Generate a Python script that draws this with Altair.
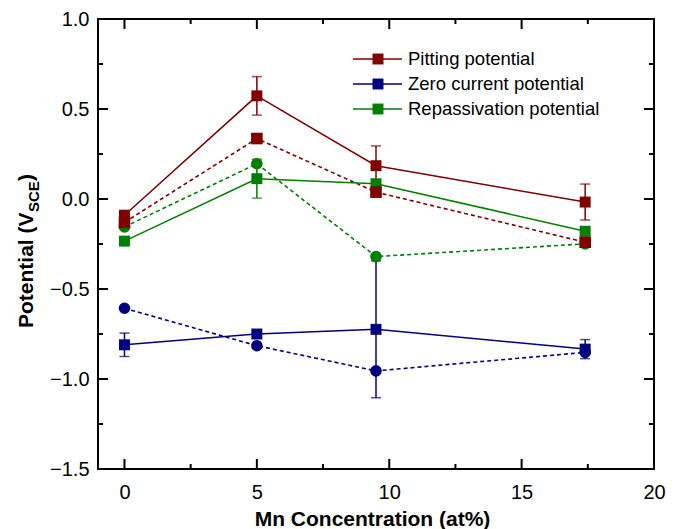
import altair as alt
import pandas as pd

# ---------------- data ----------------
x_vals = [0, 5, 9.5, 17.4]
series_names = ["Pitting potential", "Zero current potential", "Repassivation potential"]
series_colors = ["#800000", "#000080", "#008000"]
dash_shapes = ["square", "circle", "circle"]

pit_solid = [-0.09, 0.573, 0.185, -0.017]
pit_solid_err = [0.0, 0.107, 0.11, 0.10]
pit_dash = [-0.13, 0.336, 0.038, -0.24]

zero_solid = [-0.81, -0.75, -0.724, -0.834]
zero_solid_err = [0.065, 0.0, 0.38, 0.053]
zero_dash = [-0.607, -0.815, -0.955, -0.852]

rep_solid = [-0.234, 0.113, 0.085, -0.179]
rep_solid_err = [0.0, 0.108, 0.0, 0.0]
rep_dash = [-0.155, 0.196, -0.32, -0.249]

x_major = [0, 5, 10, 15, 20]
x_minor = [2.5, 7.5, 12.5, 17.5]
y_major = [1.0, 0.5, 0.0, -0.5, -1.0, -1.5]
y_minor = [0.75, 0.25, -0.25, -0.75, -1.25]

x_title = "Mn Concentration (at%)"
y_title_main = "Potential (V"
y_title_sub = "SCE"
y_title_end = ")"

# ---------------- tables ----------------
solid_sets = [pit_solid, zero_solid, rep_solid]
err_sets = [pit_solid_err, zero_solid_err, rep_solid_err]
dash_sets = [pit_dash, zero_dash, rep_dash]

solid_rows, dash_rows = [], []
for name, ys, es, ds, shp in zip(series_names, solid_sets, err_sets, dash_sets, dash_shapes):
    for x, y, e, d in zip(x_vals, ys, es, ds):
        solid_rows.append({"series": name, "x": x, "y": y, "err": e, "lo": y - e, "hi": y + e})
        dash_rows.append({"series": name, "x": x, "y": d, "shape": shp})
solid_df = pd.DataFrame(solid_rows)
dash_df = pd.DataFrame(dash_rows)
err_df = solid_df[solid_df["err"] > 0]
dash_df_draw = pd.concat([dash_df[dash_df.series == series_names[2]],
                          dash_df[dash_df.series == series_names[1]],
                          dash_df[dash_df.series == series_names[0]]])

FONT = "Liberation Sans"
W, H = 556, 450

xs = alt.Scale(domain=[-1, 20], nice=False, zero=False)
ys_ = alt.Scale(domain=[-1.5, 1.0], nice=False, zero=False)
x_axis = alt.Axis(values=x_major, format="d", title=x_title, labelPadding=13, labelFlush=False,
                  labelOverlap=False, titleFont=FONT, titleFontSize=21, titleFontWeight="bold",
                  titleY=56, titleX=274, titleBaseline="alphabetic", titleAlign="center")
y_axis = alt.Axis(values=y_major, title=None, labelPadding=9, labelOverlap=False,
                  labelExpr="replace(format(datum.value, '.1f'), '-', '\u2212')")
color = alt.Color("series:N", scale=alt.Scale(domain=series_names, range=series_colors), legend=None)


def X(field="x"):
    return alt.X(f"{field}:Q", scale=xs, axis=x_axis)


def Y(field="y"):
    return alt.Y(f"{field}:Q", scale=ys_, axis=y_axis)


solid_lines = alt.Chart(solid_df).mark_line(strokeWidth=1.5).encode(x=X(), y=Y(), color=color, detail="series:N")
dash_lines = alt.Chart(dash_df).mark_line(strokeWidth=1.6, strokeDash=[4, 3]).encode(
    x=X(), y=Y(), color=color, detail="series:N")

err_rules = alt.Chart(err_df).mark_rule(strokeWidth=1.5).encode(x=X(), y=Y("lo"), y2="hi:Q", color=color)
cap_lo = alt.Chart(err_df).mark_tick(orient="horizontal", size=10, thickness=1.5).encode(
    x=X(), y=Y("lo"), color=color)
cap_hi = alt.Chart(err_df).mark_tick(orient="horizontal", size=10, thickness=1.5).encode(
    x=X(), y=Y("hi"), color=color)

solid_pts = alt.Chart(solid_df).mark_point(shape="square", filled=True, size=120, opacity=1).encode(
    x=X(), y=Y(), color=color)
dash_pts = alt.Chart(dash_df_draw).mark_point(filled=True, size=135, opacity=1).encode(
    x=X(), y=Y(), color=color, shape=alt.Shape("shape:N", scale=None))

# inward ticks on all four sides
tick_layers = []
for vals, ln in [(x_major, 10), (x_minor, 5)]:
    d = pd.DataFrame({"x": vals})
    tick_layers.append(alt.Chart(d).mark_rule(color="black", strokeWidth=2).encode(
        x=X(), y=alt.value(H - ln), y2=alt.value(H)))
    tick_layers.append(alt.Chart(d).mark_rule(color="black", strokeWidth=2).encode(
        x=X(), y=alt.value(0), y2=alt.value(ln)))
for vals, ln in [(y_major, 10), (y_minor, 5)]:
    d = pd.DataFrame({"y": vals})
    tick_layers.append(alt.Chart(d).mark_rule(color="black", strokeWidth=2).encode(
        y=Y(), x=alt.value(0), x2=alt.value(ln)))
    tick_layers.append(alt.Chart(d).mark_rule(color="black", strokeWidth=2).encode(
        y=Y(), x=alt.value(W - ln), x2=alt.value(W)))

one = pd.DataFrame({"a": [0]})
# y title with subscript
t_main = alt.Chart(one).mark_text(angle=270, align="left", baseline="alphabetic", font=FONT,
                                  fontSize=21, fontWeight="bold", color="black").encode(
    x=alt.value(-65), y=alt.value(309), text=alt.value(y_title_main))
t_sub = alt.Chart(one).mark_text(angle=270, align="left", baseline="alphabetic", font=FONT,
                                 fontSize=15, fontWeight="bold", color="black").encode(
    x=alt.value(-59), y=alt.value(193), text=alt.value(y_title_sub))
t_end = alt.Chart(one).mark_text(angle=270, align="left", baseline="alphabetic", font=FONT,
                                 fontSize=21, fontWeight="bold", color="black").encode(
    x=alt.value(-65), y=alt.value(162), text=alt.value(y_title_end))

# legend
legend_layers = []
legend_rows = [40, 65, 90]
for name, col, ry in zip(series_names, series_colors, legend_rows):
    legend_layers.append(alt.Chart(one).mark_rule(color=col, strokeWidth=1.5).encode(
        x=alt.value(255), x2=alt.value(304), y=alt.value(ry)))
    legend_layers.append(alt.Chart(one).mark_point(shape="square", filled=True, size=120,
                                                   opacity=1, color=col).encode(
        x=alt.value(280), y=alt.value(ry)))
    legend_layers.append(alt.Chart(one).mark_text(align="left", baseline="middle", font=FONT,
                                                  fontSize=18.5, color="black").encode(
        x=alt.value(310), y=alt.value(ry), text=alt.value(name)))

chart = alt.layer(
    dash_lines, solid_lines, err_rules, cap_lo, cap_hi, solid_pts, dash_pts,
    *tick_layers, t_main, t_sub, t_end, *legend_layers
).properties(
    width=W, height=H,
    autosize=alt.AutoSizeParams(type="none"),
    padding={"left": 98, "top": 19, "right": 27, "bottom": 60},
    background="white",
).configure_view(
    stroke="black", strokeWidth=2
).configure_axis(
    grid=False, domain=False, ticks=False, tickSize=0,
    labelFont=FONT, labelFontSize=20, labelColor="black", titleColor="black"
)

chart.save("out.html", embed_options={"renderer": "svg", "actions": False})
